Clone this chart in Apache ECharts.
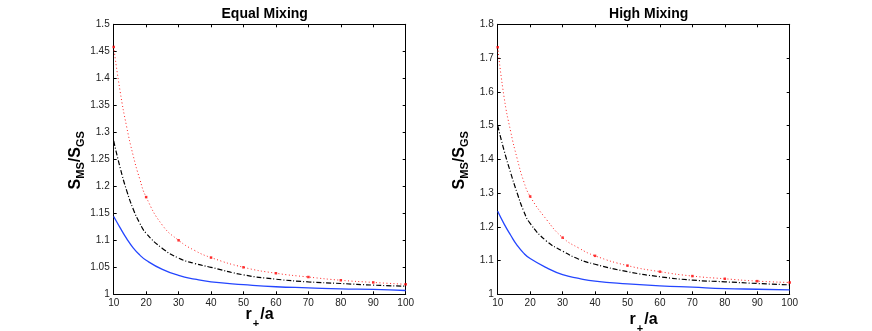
<!DOCTYPE html>
<html>
<head>
<meta charset="utf-8">
<script src="https://cdn.jsdelivr.net/npm/echarts@6/dist/echarts.min.js"></script>
<style>
  html, body { margin: 0; padding: 0; background: #fff; }
  #chart { width: 872px; height: 331px; }
</style>
</head>
<body>
<div id="chart"></div>
<script>
// r+/a sample positions
const rValues = [10, 12, 14, 16, 18, 20, 25, 30, 35, 40, 50, 60, 70, 80, 90, 100]

// Equal Mixing
const equalRed = [1.458, 1.375, 1.31, 1.257, 1.214, 1.18, 1.128, 1.1, 1.081, 1.068, 1.05, 1.039, 1.032, 1.026, 1.022, 1.0185]
const equalBlack = [1.284, 1.234, 1.192, 1.158, 1.132, 1.113, 1.085, 1.067, 1.057, 1.05, 1.036, 1.028, 1.023, 1.02, 1.017, 1.015]
const equalBlue = [1.144, 1.123, 1.103, 1.086, 1.073, 1.063, 1.046, 1.035, 1.028, 1.023, 1.018, 1.014, 1.012, 1.01, 1.009, 1.007]

// High Mixing
const highRed = [1.732, 1.582, 1.482, 1.402, 1.335, 1.29, 1.222, 1.168, 1.137, 1.114, 1.085, 1.067, 1.054, 1.046, 1.039, 1.035]
const highBlack = [1.5, 1.425, 1.36, 1.3, 1.247, 1.21, 1.158, 1.128, 1.104, 1.089, 1.067, 1.052, 1.042, 1.037, 1.032, 1.028]
const highBlue = [1.246, 1.208, 1.175, 1.145, 1.122, 1.106, 1.079, 1.058, 1.047, 1.039, 1.031, 1.025, 1.021, 1.017, 1.015, 1.013]

// axis ranges / tick steps
const xRange = [10, 100, 10]
const equalYRange = [1, 1.5, 0.05]
const highYRange = [1, 1.8, 0.1]

const font = 'Liberation Sans, Arial, Helvetica, sans-serif'

const pairs = (ys) => rValues.map((r, i) => [r, ys[i]])
const tens = (ys) => pairs(ys).filter((p) => p[0] % 10 === 0)

const yName = '{b|S}{s|MS}{b|/S}{s|GS}'
// z is an empty tall token so the + subscript can sit below the baseline
const xName = '{t|r}{p|+}{t|/a}{z| }'
const nameRich = {
  b: { fontSize: 16, fontWeight: 'bold', lineHeight: 22, verticalAlign: 'middle', fontFamily: font, color: '#000' },
  s: { fontSize: 11, fontWeight: 'bold', lineHeight: 10, verticalAlign: 'bottom', fontFamily: font, color: '#000' },
  t: { fontSize: 16, fontWeight: 'bold', lineHeight: 20, verticalAlign: 'top', fontFamily: font, color: '#000' },
  p: { fontSize: 11, fontWeight: 'bold', lineHeight: 8, verticalAlign: 'bottom', fontFamily: font, color: '#000', padding: [0, 1, 0, 1] },
  z: { fontSize: 1, lineHeight: 23, verticalAlign: 'bottom' }
}

function axesFor(idx, yRange, xGap) {
  const line = { lineStyle: { color: '#000', width: 1 } }
  const tick = { inside: true, length: 3, lineStyle: { color: '#000', width: 1 } }
  const label = { color: '#222', fontSize: 10, fontFamily: font }
  return {
    x: [
      {
        type: 'value', gridIndex: idx, position: 'bottom',
        min: xRange[0], max: xRange[1], interval: xRange[2],
        axisLine: line, axisTick: tick, axisLabel: Object.assign({ margin: 4 }, label),
        splitLine: { show: false },
        name: xName, nameLocation: 'middle', nameGap: xGap, nameMoveOverlap: false,
        nameTextStyle: { rich: nameRich }
      },
      {
        type: 'value', gridIndex: idx, position: 'top',
        min: xRange[0], max: xRange[1], interval: xRange[2],
        axisLine: line, axisTick: tick, axisLabel: { show: false },
        splitLine: { show: false }
      }
    ],
    y: [
      {
        type: 'value', gridIndex: idx, position: 'left',
        min: yRange[0], max: yRange[1], interval: yRange[2],
        axisLine: line, axisTick: tick, axisLabel: Object.assign({ margin: 4 }, label),
        splitLine: { show: false },
        name: yName, nameLocation: 'middle', nameGap: 27,
        nameTextStyle: { rich: nameRich, padding: [0, 2, 0, 0] }
      },
      {
        type: 'value', gridIndex: idx, position: 'right',
        min: yRange[0], max: yRange[1], interval: yRange[2],
        axisLine: line, axisTick: tick, axisLabel: { show: false },
        splitLine: { show: false }
      }
    ]
  }
}

function seriesFor(idx, red, black, blue) {
  const base = { type: 'line', xAxisIndex: idx * 2, yAxisIndex: idx * 2, showSymbol: false, smooth: 0.5, animation: false }
  return [
    Object.assign({}, base, { data: pairs(blue), lineStyle: { color: '#2446ff', width: 1.3 } }),
    Object.assign({}, base, { data: pairs(black), lineStyle: { color: '#000', width: 1.2, type: [5, 2, 1, 2] } }),
    Object.assign({}, base, { data: pairs(red), lineStyle: { color: '#ff2020', width: 1, type: [1, 2.5] } }),
    {
      type: 'scatter', xAxisIndex: idx * 2, yAxisIndex: idx * 2,
      data: tens(red), symbol: 'rect', symbolSize: 2.5,
      itemStyle: { color: '#ff0000' }, animation: false
    }
  ]
}

const a0 = axesFor(0, equalYRange, 12)
const a1 = axesFor(1, highYRange, 17)

const chart = echarts.init(document.getElementById('chart'))
chart.setOption({
  backgroundColor: '#fff',
  animation: false,
  title: [
    { text: 'Equal Mixing', left: 259.7, top: 2, textAlign: 'center', textStyle: { fontSize: 14, fontWeight: 'bold', fontFamily: font, color: '#000' } },
    { text: 'High Mixing', left: 643.7, top: 2, textAlign: 'center', textStyle: { fontSize: 14, fontWeight: 'bold', fontFamily: font, color: '#000' } }
  ],
  grid: [
    { left: 113.7, top: 24.3, width: 292, height: 270, containLabel: false, outerBoundsMode: 'none' },
    { left: 497.7, top: 24.3, width: 292, height: 270, containLabel: false, outerBoundsMode: 'none' }
  ],
  xAxis: a0.x.concat(a1.x),
  yAxis: a0.y.concat(a1.y),
  series: seriesFor(0, equalRed, equalBlack, equalBlue).concat(seriesFor(1, highRed, highBlack, highBlue))
})
</script>
</body>
</html>
